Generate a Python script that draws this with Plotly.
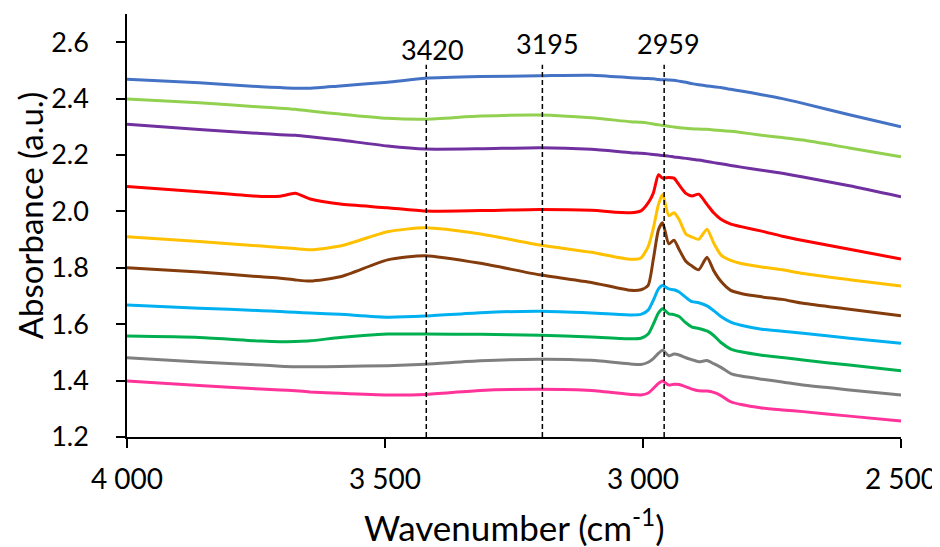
import plotly.graph_objects as go

wavenumber = [4000, 3860, 3740, 3703, 3674, 3645, 3587, 3495, 3422, 3315, 3200, 3100,
              3024, 3004, 2990, 2980, 2970, 2962, 2950, 2940, 2930, 2917, 2905, 2892,
              2876, 2863, 2849, 2830, 2810, 2770, 2730, 2690, 2600, 2500]

blue = [2.469, 2.456, 2.442, 2.439, 2.437, 2.437, 2.445, 2.458, 2.472, 2.478, 2.481, 2.483,
        2.474, 2.472, 2.471, 2.470, 2.468, 2.467, 2.466, 2.465, 2.462, 2.458, 2.453, 2.449,
        2.445, 2.442, 2.439, 2.433, 2.427, 2.414, 2.400, 2.383, 2.343, 2.300]
light_green = [2.399, 2.385, 2.370, 2.366, 2.362, 2.356, 2.345, 2.330, 2.327, 2.338, 2.342, 2.332,
               2.318, 2.316, 2.313, 2.310, 2.307, 2.305, 2.302, 2.299, 2.297, 2.295, 2.293, 2.292,
               2.291, 2.289, 2.287, 2.284, 2.280, 2.270, 2.262, 2.253, 2.225, 2.194]
purple = [2.309, 2.290, 2.276, 2.272, 2.270, 2.265, 2.253, 2.232, 2.221, 2.222, 2.226, 2.220,
          2.208, 2.206, 2.204, 2.202, 2.200, 2.198, 2.196, 2.193, 2.191, 2.188, 2.185, 2.182,
          2.177, 2.173, 2.169, 2.163, 2.157, 2.146, 2.135, 2.122, 2.091, 2.052]
red = [2.088, 2.070, 2.053, 2.054, 2.064, 2.044, 2.026, 2.013, 2.001, 2.003, 2.007, 2.004,
       1.995, 2.002, 2.030, 2.065, 2.130, 2.118, 2.120, 2.118, 2.094, 2.064, 2.055, 2.061,
       2.025, 1.995, 1.972, 1.955, 1.946, 1.930, 1.912, 1.897, 1.866, 1.831]
orange = [1.910, 1.893, 1.877, 1.872, 1.868, 1.864, 1.877, 1.928, 1.942, 1.920, 1.881, 1.855,
          1.830, 1.835, 1.875, 1.940, 2.025, 2.060, 1.985, 1.995, 1.971, 1.920, 1.909, 1.901,
          1.937, 1.888, 1.846, 1.826, 1.815, 1.803, 1.793, 1.780, 1.758, 1.735]
brown = [1.800, 1.785, 1.768, 1.763, 1.757, 1.753, 1.768, 1.828, 1.843, 1.816, 1.775, 1.748,
         1.720, 1.722, 1.738, 1.830, 1.935, 1.960, 1.885, 1.898, 1.865, 1.823, 1.806, 1.793,
         1.837, 1.790, 1.752, 1.720, 1.709, 1.697, 1.688, 1.674, 1.653, 1.630]
cyan = [1.668, 1.657, 1.648, 1.645, 1.642, 1.640, 1.635, 1.625, 1.629, 1.641, 1.646, 1.640,
        1.633, 1.635, 1.650, 1.685, 1.725, 1.737, 1.725, 1.722, 1.714, 1.695, 1.680, 1.676,
        1.665, 1.648, 1.627, 1.607, 1.596, 1.582, 1.575, 1.568, 1.550, 1.532]
green = [1.558, 1.553, 1.540, 1.538, 1.539, 1.541, 1.553, 1.565, 1.565, 1.564, 1.561, 1.555,
         1.548, 1.550, 1.565, 1.600, 1.640, 1.655, 1.637, 1.634, 1.627, 1.605, 1.590, 1.585,
         1.576, 1.560, 1.535, 1.512, 1.502, 1.490, 1.482, 1.473, 1.455, 1.435]
gray = [1.481, 1.466, 1.455, 1.451, 1.449, 1.449, 1.450, 1.453, 1.458, 1.470, 1.476, 1.472,
        1.459, 1.457, 1.465, 1.478, 1.497, 1.508, 1.488, 1.494, 1.491, 1.481, 1.474, 1.467,
        1.471, 1.460, 1.447, 1.425, 1.416, 1.405, 1.395, 1.384, 1.367, 1.349]
pink = [1.399, 1.383, 1.370, 1.367, 1.364, 1.360, 1.355, 1.349, 1.351, 1.365, 1.369, 1.365,
        1.351, 1.349, 1.356, 1.372, 1.390, 1.399, 1.384, 1.387, 1.386, 1.378, 1.370, 1.364,
        1.363, 1.358, 1.347, 1.325, 1.315, 1.303, 1.296, 1.290, 1.274, 1.257]

series = [blue, light_green, purple, red, orange, brown, cyan, green, gray, pink]
colors = ["#4472C4", "#92D050", "#7030A0", "#FF0000", "#FFC000",
          "#843C0C", "#00B0F0", "#00B050", "#7F7F7F", "#FF3399"]

marker_positions = [3420, 3195, 2959]
marker_labels = ["3420", "3195", "2959"]
marker_top = 2.52

x_ticks = [4000, 3500, 3000, 2500]
x_tick_text = ["4 000", "3 500", "3 000", "2 500"]
y_ticks = [1.2, 1.4, 1.6, 1.8, 2.0, 2.2, 2.4, 2.6]

FONT = "Lato"

fig = go.Figure()
for vals, col in zip(series, colors):
    fig.add_trace(go.Scatter(x=wavenumber, y=vals, mode="lines",
                             line=dict(color=col, width=3, shape="spline", smoothing=0.6),
                             showlegend=False, hoverinfo="skip"))

label_shift = {"3420": (6, -3), "3195": (5, 3), "2959": (4, 3)}
for xv, lab in zip(marker_positions, marker_labels):
    fig.add_shape(type="line", xref="x", yref="y", x0=xv, x1=xv, y0=1.2, y1=marker_top,
                  line=dict(color="black", width=1.5, dash="5px,3px"))
    dx, dy = label_shift[lab]
    fig.add_annotation(x=xv, y=marker_top, xref="x", yref="y", text=lab, showarrow=False,
                       yanchor="bottom", xanchor="center", xshift=dx, yshift=dy,
                       font=dict(family=FONT, size=27, color="black"))

fig.add_annotation(x=0.5, y=0, xref="paper", yref="paper", text="Wavenumber (cm<sup>-1</sup>)",
                   showarrow=False, yanchor="middle", xanchor="center", yshift=-88,
                   font=dict(family=FONT, size=35, color="black"))
fig.add_annotation(x=0, y=0.524, xref="paper", yref="paper", text="Absorbance (a.u.)",
                   showarrow=False, textangle=-90, xanchor="center", yanchor="middle", xshift=-97,
                   borderpad=0,
                   font=dict(family=FONT, size=33, color="black"))

fig.update_layout(
    width=940, height=547,
    margin=dict(l=119, r=47, t=6, b=118),
    plot_bgcolor="white", paper_bgcolor="white",
    font=dict(family=FONT, color="black"),
    xaxis=dict(range=[4000, 2500], tickmode="array", tickvals=x_ticks, ticktext=x_tick_text,
               showgrid=False, zeroline=False, showline=True, linecolor="black", linewidth=1.5,
               ticks="outside", ticklen=9, tickwidth=1.5, tickcolor="black",
               ticklabelstandoff=8,
               tickfont=dict(family=FONT, size=28, color="black")),
    yaxis=dict(range=[1.2, 2.7], tickmode="array", tickvals=y_ticks, tickformat=".1f",
               showgrid=False, zeroline=False, showline=True, linecolor="black", linewidth=1.5,
               ticks="outside", ticklen=9, tickwidth=1.5, tickcolor="black",
               ticklabelstandoff=22,
               tickfont=dict(family=FONT, size=27, color="black")),
)

fig.write_html("out.html")
